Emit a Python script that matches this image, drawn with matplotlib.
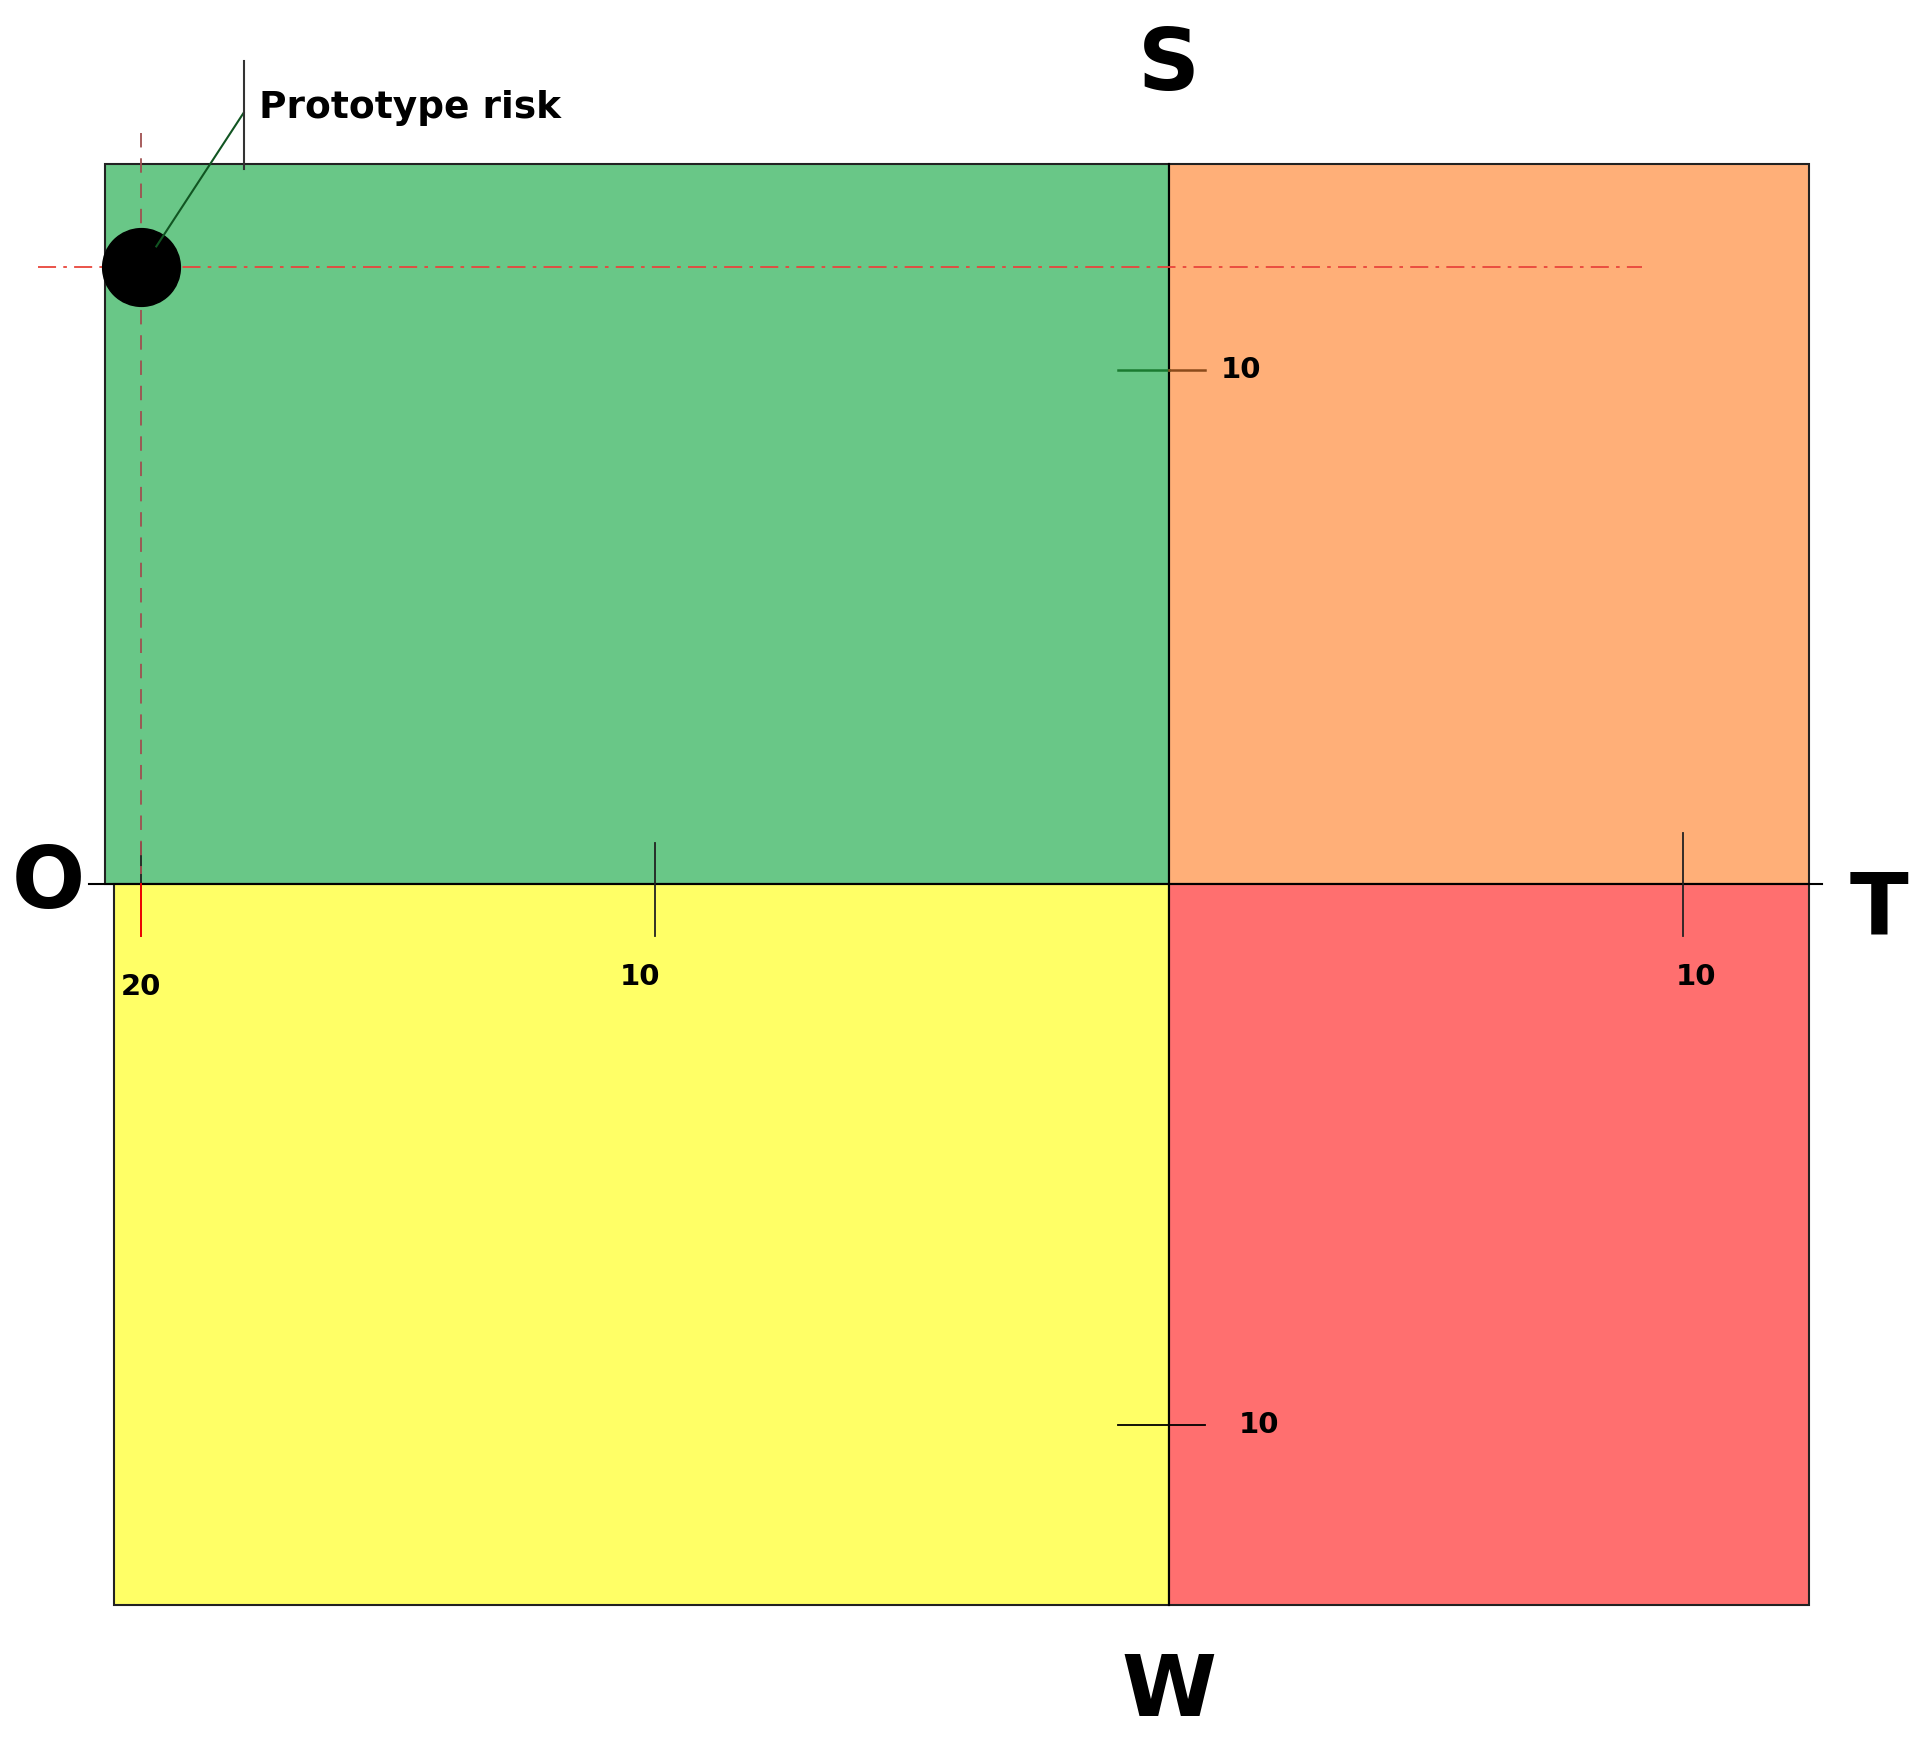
import matplotlib.pyplot as plt
from matplotlib.patches import Rectangle

# quadrant extents (axis units: 10 per tick step)
O_EXTENT = -20.7
T_EXTENT = 12.45
S_EXTENT = 14.0
W_EXTENT = -14.0

QUADRANTS = ["SO", "ST", "WO", "WT"]
QUAD_COLORS = ["#69C787", "#FFAF78", "#FFFF66", "#FF6F6F"]

RISK_LABEL = "Prototype risk"
RISK_X = -20
RISK_Y = 12

TICK_LABELS = ["20", "10", "10", "10", "10"]


def main():
    fig = plt.figure(figsize=(19.2, 17.42), dpi=100)
    ax = fig.add_axes([0, 0, 1, 1])
    ax.set_xlim(-22.74, 14.6)
    ax.set_ylim(-16.67, 17.19)
    ax.axis("off")

    boxes = {
        "SO": (O_EXTENT, 0, -O_EXTENT, S_EXTENT),
        "ST": (0, 0, T_EXTENT, S_EXTENT),
        "WO": (O_EXTENT + 0.17, W_EXTENT, -O_EXTENT - 0.17, -W_EXTENT),
        "WT": (0, W_EXTENT, T_EXTENT, -W_EXTENT),
    }
    for name, color in zip(QUADRANTS, QUAD_COLORS):
        x, y, w, h = boxes[name]
        ax.add_patch(Rectangle((x, y), w, h, facecolor=color, edgecolor="#222222", lw=1.5))

    # axis lines
    ax.plot([O_EXTENT - 0.3, T_EXTENT + 0.25], [0, 0], color="black", lw=1.5)
    ax.plot([0, 0], [W_EXTENT, S_EXTENT], color="black", lw=1.5)

    # tick marks
    ax.plot([RISK_X, RISK_X], [0.8, -1.0], color="#222222", lw=1.3)
    ax.plot([RISK_X, RISK_X], [0, -1.0], color="red", lw=1.3)
    ax.plot([-10, -10], [0.8, -1.0], color="#222222", lw=1.3)
    ax.plot([10, 10], [1.0, -1.0], color="#222222", lw=1.3)
    ax.plot([-1.0, 0], [10, 10], color="#1a7a30", lw=1.8)
    ax.plot([0, 0.7], [10, 10], color="#8b4a1a", lw=1.8)
    ax.plot([-1.0, 0.7], [-10.5, -10.5], color="black", lw=1.3)

    tick_pos = [(RISK_X, -2.0), (-10.3, -1.8), (10.25, -1.8), (1.4, 10), (1.75, -10.5)]
    for (tx, ty), lab in zip(tick_pos, TICK_LABELS):
        ax.text(tx, ty, lab, fontsize=21, fontweight="bold", ha="center", va="center")

    # dashed guides to the risk point
    ax.plot([-22.0, 9.2], [RISK_Y, RISK_Y], color="#e8453c", lw=1.3, ls="-.", dashes=(10, 4, 2, 4))
    ax.plot([RISK_X, RISK_X], [14.6, 0.2], color="#a05050", lw=1.3, ls="--", dashes=(8, 6))
    ax.plot([RISK_X], [RISK_Y], "o", color="black", markersize=56)

    # label with leader lines
    ax.plot([RISK_X + 0.3, -18.0], [RISK_Y + 0.4, 15.0], color="#115522", lw=1.5)
    ax.plot([-18.0, -18.0], [13.9, 16.0], color="#333333", lw=1.5)
    ax.text(-17.7, 15.1, RISK_LABEL, fontsize=27, fontweight="bold", ha="left", va="center")

    # quadrant letters
    big = dict(fontsize=62, fontweight="bold", ha="center", va="center")
    ax.text(0, 15.9, "S", **big)
    ax.text(0, -15.7, "W", **big)
    ax.text(-21.8, 0, "O", **big)
    ax.text(13.8, -0.5, "T", **big)

    fig.savefig("out.png", dpi=100, facecolor="white")


if __name__ == "__main__":
    main()
